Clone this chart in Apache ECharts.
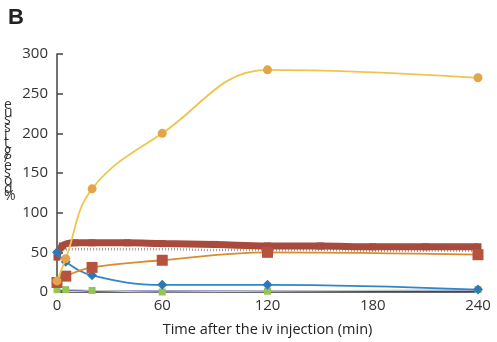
<!DOCTYPE html>
<html>
<head>
<meta charset="utf-8">
<script src="https://cdn.jsdelivr.net/npm/echarts@6/dist/echarts.min.js"></script>
<style>
  html, body { margin: 0; padding: 0; background: #fff; }
  #chart { width: 497px; height: 342px; }
</style>
</head>
<body>
<div id="chart"></div>
<script>
// Sampling times (min) and tissue uptake (% dose/g)
const xTicks = [0, 60, 120, 180, 240];
const yTicks = [0, 50, 100, 150, 200, 250, 300];

const timesMain = [0, 5, 20, 60, 120, 240];
const yellowVals = [14, 42, 130, 200, 280, 270];
const orangeVals = [12, 20, 31, 40, 50, 47];
const blueVals   = [50, 38, 21, 9, 9, 3];
const greenVals  = [3, 3, 2, 0, 1, 3];

const timesBand = [0, 3, 10, 20, 40, 60, 90, 120, 150, 180, 210, 240];
const bandVals  = [44, 58, 62, 62, 62, 61, 60, 58, 58, 57, 57, 57];
const dotVals   = [40, 52, 54, 54, 54, 54, 53, 53, 53, 52, 52, 52];
const navyVals  = [2, 2, 2, 1, 1, 1, 1, 1, 1, 1, 1, 1];

const pairs = (xs, ys) => xs.map((x, i) => [x, ys[i]]);

const chart = echarts.init(document.getElementById('chart'), null, { renderer: 'canvas' });

// y-axis title stacked character by character, reading bottom to top
const yLabel = '% dose/g tissue'.replace(/ /g, '').split('').reverse().join('\n');

chart.setOption({
  animation: false,
  backgroundColor: '#ffffff',
  grid: { left: 57, right: 19, top: 54, bottom: 46 },
  xAxis: {
    type: 'value', min: 0, max: 240, interval: 60,
    axisLine: { lineStyle: { color: '#666', width: 1 } },
    axisTick: { show: false },
    splitLine: { show: false },
    axisLabel: { color: '#333', fontSize: 15, fontFamily: 'Open Sans', margin: 6 },
    name: 'Time after the iv injection (min)',
    nameLocation: 'middle', nameGap: 30,
    nameTextStyle: { color: '#222', fontSize: 14.5, fontFamily: 'Open Sans', fontWeight: 500 }
  },
  yAxis: {
    type: 'value', min: 0, max: 300, interval: 50,
    axisLine: { show: true, lineStyle: { color: '#444', width: 1.5 } },
    axisTick: { show: true, inside: true, length: 6, lineStyle: { color: '#444', width: 1.5 } },
    splitLine: { show: false },
    axisLabel: { color: '#333', fontSize: 15, fontFamily: 'Open Sans', margin: 9 }
  },
  graphic: [
    { type: 'text', left: 8, top: 7, style: { text: 'B', font: 'bold 22px "Liberation Sans", Arial', fill: '#222' } },
    { type: 'text', left: 4, top: 98, style: { text: yLabel, font: '14px "Open Sans"', fill: '#333', lineHeight: 7.6 } }
  ],
  series: [
    {
      type: 'line', data: pairs(timesBand, dotVals), smooth: 0.4, symbol: 'none',
      lineStyle: { color: '#9a9a9a', width: 2.5, type: [1, 2] }, z: 2
    },
    {
      type: 'line', data: pairs(timesBand, bandVals), smooth: 0.4,
      symbol: 'rect', symbolSize: 7, itemStyle: { color: '#A84B3C' },
      lineStyle: { color: '#A84B3C', width: 7 }, z: 3
    },
    {
      type: 'line', data: pairs(timesBand, navyVals), smooth: 0.4, symbol: 'none',
      lineStyle: { color: '#34449a', width: 1.5 }, z: 3
    },
    {
      type: 'line', data: pairs(timesMain, greenVals), smooth: 0.4,
      symbol: 'rect', symbolSize: 7, itemStyle: { color: '#95c458' },
      lineStyle: { color: '#c8c8c8', width: 1.2 }, z: 4
    },
    {
      type: 'line', data: pairs(timesMain, blueVals), smooth: 0.4,
      symbol: 'diamond', symbolSize: 10, itemStyle: { color: '#2f78b8' },
      lineStyle: { color: '#2f86c8', width: 1.8 }, z: 5
    },
    {
      type: 'line', data: pairs(timesMain, orangeVals), smooth: 0.4,
      symbol: 'rect', symbolSize: 11, itemStyle: { color: '#B5533E' },
      lineStyle: { color: '#D98B2E', width: 1.8 }, z: 6
    },
    {
      type: 'line', data: pairs(timesMain, yellowVals), smooth: 0.4,
      symbol: 'circle', symbolSize: 9, itemStyle: { color: '#E2A54A' },
      lineStyle: { color: '#F0C450', width: 1.8 }, z: 7
    }
  ]
});
</script>
</body>
</html>
